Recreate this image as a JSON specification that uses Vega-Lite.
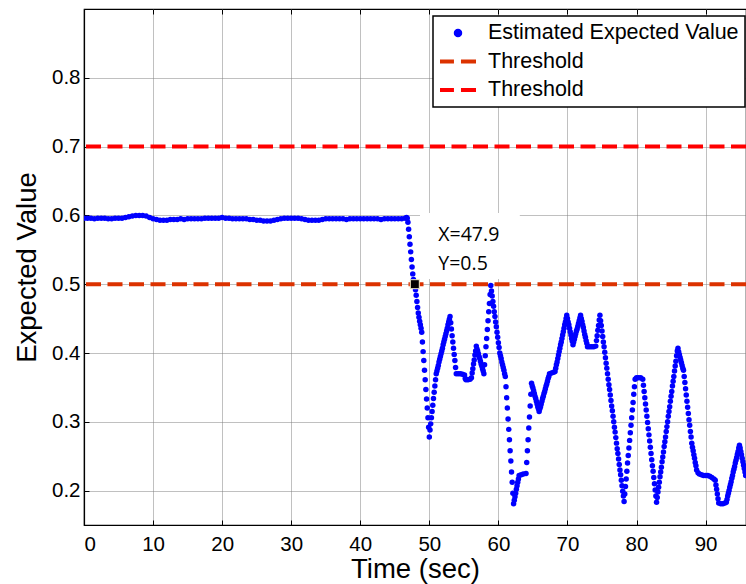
{
"$schema": "https://vega.github.io/schema/vega-lite/v6.json",
"width": 662, "height": 516,
"autosize": {"type": "none"},
"padding": {"left": 84, "top": 9, "right": 0, "bottom": 59},
"background": "white",
"config": {
  "font": "Liberation Sans",
  "view": {"stroke": "#000", "strokeWidth": 1.2},
  "axis": {"domainColor": "#000", "domainWidth": 1.2, "tickColor": "#000", "tickSize": -5, "tickWidth": 1,
    "labelColor": "#000", "labelFont": "Liberation Sans", "labelFontSize": 20.5,
    "titleFont": "Liberation Sans", "titleFontSize": 27.5, "titleFontWeight": "normal", "titleColor": "#000",
    "gridColor": "#808080", "gridDash": [1, 1], "gridWidth": 1, "gridOpacity": 1},
  "legend": {"orient": "none", "legendX": 349, "legendY": 7, "padding": 6, "fillColor": "white", "strokeColor": "black",
    "labelFont": "Liberation Sans", "labelFontSize": 21.5, "labelColor": "#000", "labelLimit": 600,
    "symbolSize": 324, "symbolOffset": 8, "labelOffset": 19, "rowPadding": 6.5}
},
"datasets": {
  "est": [
{"time":0,"value":0.596},{"time":0.5,"value":0.596},{"time":1,"value":0.596},{"time":1.5,"value":0.595},{"time":2,"value":0.596},{"time":2.5,"value":0.596},{"time":3,"value":0.596},{"time":3.5,"value":0.595},{"time":4,"value":0.595},{"time":4.5,"value":0.596},
{"time":5,"value":0.596},{"time":5.5,"value":0.596},{"time":6,"value":0.597},{"time":6.5,"value":0.598},{"time":7,"value":0.599},{"time":7.5,"value":0.6},{"time":8,"value":0.6},{"time":8.5,"value":0.6},{"time":9,"value":0.599},{"time":9.5,"value":0.597},
{"time":10,"value":0.595},{"time":10.5,"value":0.594},{"time":11,"value":0.593},{"time":11.5,"value":0.593},{"time":12,"value":0.593},{"time":12.5,"value":0.594},{"time":13,"value":0.594},{"time":13.5,"value":0.594},{"time":14,"value":0.595},{"time":14.5,"value":0.594},
{"time":15,"value":0.595},{"time":15.5,"value":0.595},{"time":16,"value":0.595},{"time":16.5,"value":0.595},{"time":17,"value":0.595},{"time":17.5,"value":0.596},{"time":18,"value":0.596},{"time":18.5,"value":0.596},{"time":19,"value":0.596},{"time":19.5,"value":0.596},
{"time":20,"value":0.597},{"time":20.5,"value":0.596},{"time":21,"value":0.596},{"time":21.5,"value":0.595},{"time":22,"value":0.595},{"time":22.5,"value":0.595},{"time":23,"value":0.595},{"time":23.5,"value":0.595},{"time":24,"value":0.594},{"time":24.5,"value":0.594},
{"time":25,"value":0.593},{"time":25.5,"value":0.593},{"time":26,"value":0.592},{"time":26.5,"value":0.592},{"time":27,"value":0.592},{"time":27.5,"value":0.593},{"time":28,"value":0.594},{"time":28.5,"value":0.595},{"time":29,"value":0.596},{"time":29.5,"value":0.596},
{"time":30,"value":0.596},{"time":30.5,"value":0.596},{"time":31,"value":0.596},{"time":31.5,"value":0.595},{"time":32,"value":0.594},{"time":32.5,"value":0.593},{"time":33,"value":0.593},{"time":33.5,"value":0.593},{"time":34,"value":0.593},{"time":34.5,"value":0.594},
{"time":35,"value":0.595},{"time":35.5,"value":0.595},{"time":36,"value":0.595},{"time":36.5,"value":0.595},{"time":37,"value":0.595},{"time":37.5,"value":0.595},{"time":38,"value":0.594},{"time":38.5,"value":0.595},{"time":39,"value":0.595},{"time":39.5,"value":0.595},
{"time":40,"value":0.595},{"time":40.5,"value":0.595},{"time":41,"value":0.595},{"time":41.5,"value":0.595},{"time":42,"value":0.595},{"time":42.5,"value":0.595},{"time":43,"value":0.594},{"time":43.5,"value":0.595},{"time":44,"value":0.595},{"time":44.5,"value":0.595},
{"time":45,"value":0.595},{"time":45.5,"value":0.595},{"time":46,"value":0.595},{"time":46.5,"value":0.596},{"time":46.7,"value":0.597},
{"time":46.8,"value":0.596},{"time":46.9,"value":0.59},{"time":47,"value":0.58},{"time":47.1,"value":0.569},{"time":47.2,"value":0.558},{"time":47.3,"value":0.547},{"time":47.4,"value":0.536},{"time":47.5,"value":0.525},{"time":47.6,"value":0.515},{"time":47.7,"value":0.507},{"time":47.8,"value":0.503},{"time":47.9,"value":0.5},
{"time":48,"value":0.492},{"time":48.1,"value":0.484},{"time":48.2,"value":0.475},{"time":48.3,"value":0.466},{"time":48.4,"value":0.458},{"time":48.5,"value":0.452},{"time":48.6,"value":0.446},{"time":48.7,"value":0.441},{"time":48.8,"value":0.436},{"time":48.9,"value":0.43},
{"time":49,"value":0.416},{"time":49.1,"value":0.402},{"time":49.2,"value":0.389},{"time":49.3,"value":0.375},{"time":49.4,"value":0.361},{"time":49.5,"value":0.347},{"time":49.6,"value":0.333},{"time":49.7,"value":0.32},{"time":49.8,"value":0.306},{"time":49.9,"value":0.292},{"time":50,"value":0.278},
{"time":50.1,"value":0.288},{"time":50.2,"value":0.297},{"time":50.3,"value":0.306},{"time":50.4,"value":0.315},{"time":50.5,"value":0.324},{"time":50.6,"value":0.334},{"time":50.7,"value":0.343},{"time":50.8,"value":0.352},{"time":50.9,"value":0.361},{"time":51,"value":0.37},
{"time":51.1,"value":0.374},{"time":51.2,"value":0.378},{"time":51.3,"value":0.382},{"time":51.4,"value":0.387},{"time":51.5,"value":0.391},{"time":51.6,"value":0.395},{"time":51.7,"value":0.399},{"time":51.8,"value":0.403},{"time":51.9,"value":0.407},{"time":52,"value":0.412},
{"time":52.1,"value":0.416},{"time":52.2,"value":0.42},{"time":52.3,"value":0.424},{"time":52.4,"value":0.428},{"time":52.5,"value":0.432},{"time":52.6,"value":0.436},{"time":52.7,"value":0.441},{"time":52.8,"value":0.445},{"time":52.9,"value":0.449},{"time":53,"value":0.453},
{"time":53.1,"value":0.444},{"time":53.2,"value":0.435},{"time":53.3,"value":0.425},{"time":53.4,"value":0.416},{"time":53.5,"value":0.407},{"time":53.6,"value":0.398},{"time":53.7,"value":0.389},{"time":53.8,"value":0.379},{"time":53.9,"value":0.37},
{"time":54.2,"value":0.37},{"time":54.5,"value":0.37},{"time":54.8,"value":0.369},{"time":55.1,"value":0.368},{"time":55.2,"value":0.363},{"time":55.3,"value":0.361},{"time":55.6,"value":0.361},{"time":55.9,"value":0.362},{"time":56.1,"value":0.364},
{"time":56.2,"value":0.371},{"time":56.3,"value":0.377},{"time":56.4,"value":0.384},{"time":56.5,"value":0.39},{"time":56.6,"value":0.397},{"time":56.7,"value":0.403},{"time":56.8,"value":0.41},
{"time":56.9,"value":0.406},{"time":57,"value":0.403},{"time":57.1,"value":0.399},{"time":57.2,"value":0.395},{"time":57.3,"value":0.392},{"time":57.4,"value":0.388},{"time":57.5,"value":0.384},{"time":57.6,"value":0.381},{"time":57.7,"value":0.377},{"time":57.8,"value":0.374},{"time":57.9,"value":0.37},
{"time":58,"value":0.383},{"time":58.1,"value":0.396},{"time":58.2,"value":0.409},{"time":58.3,"value":0.421},{"time":58.4,"value":0.434},{"time":58.5,"value":0.447},{"time":58.6,"value":0.46},{"time":58.7,"value":0.472},{"time":58.8,"value":0.485},{"time":58.9,"value":0.498},
{"time":59,"value":0.49},{"time":59.1,"value":0.483},{"time":59.2,"value":0.475},{"time":59.3,"value":0.468},{"time":59.4,"value":0.46},{"time":59.5,"value":0.453},{"time":59.6,"value":0.445},{"time":59.7,"value":0.438},{"time":59.8,"value":0.43},{"time":59.9,"value":0.423},{"time":60,"value":0.415},{"time":60.1,"value":0.408},{"time":60.2,"value":0.4},
{"time":60.3,"value":0.396},{"time":60.4,"value":0.392},{"time":60.5,"value":0.387},{"time":60.6,"value":0.383},{"time":60.7,"value":0.379},{"time":60.8,"value":0.375},{"time":60.9,"value":0.37},{"time":61,"value":0.366},
{"time":61.1,"value":0.351},{"time":61.2,"value":0.335},{"time":61.3,"value":0.32},{"time":61.4,"value":0.304},{"time":61.5,"value":0.289},{"time":61.6,"value":0.274},{"time":61.7,"value":0.258},{"time":61.8,"value":0.243},{"time":61.9,"value":0.227},{"time":62,"value":0.212},{"time":62.1,"value":0.196},{"time":62.2,"value":0.181},
{"time":62.3,"value":0.186},{"time":62.4,"value":0.191},{"time":62.5,"value":0.196},{"time":62.6,"value":0.202},{"time":62.7,"value":0.207},{"time":62.8,"value":0.212},{"time":62.9,"value":0.217},{"time":63,"value":0.222},
{"time":63.3,"value":0.223},{"time":63.6,"value":0.224},{"time":64,"value":0.225},
{"time":64.1,"value":0.241},{"time":64.2,"value":0.258},{"time":64.3,"value":0.274},{"time":64.4,"value":0.291},{"time":64.5,"value":0.307},{"time":64.6,"value":0.323},{"time":64.7,"value":0.34},{"time":64.8,"value":0.356},
{"time":64.9,"value":0.352},{"time":65,"value":0.349},{"time":65.1,"value":0.345},{"time":65.2,"value":0.341},{"time":65.3,"value":0.337},{"time":65.4,"value":0.334},{"time":65.5,"value":0.33},{"time":65.6,"value":0.326},{"time":65.7,"value":0.322},{"time":65.8,"value":0.319},{"time":65.9,"value":0.315},
{"time":66,"value":0.319},{"time":66.1,"value":0.322},{"time":66.2,"value":0.326},{"time":66.3,"value":0.33},{"time":66.4,"value":0.334},{"time":66.5,"value":0.337},{"time":66.6,"value":0.341},{"time":66.7,"value":0.344},{"time":66.8,"value":0.348},{"time":66.9,"value":0.352},{"time":67,"value":0.355},{"time":67.1,"value":0.359},{"time":67.2,"value":0.363},{"time":67.3,"value":0.366},{"time":67.4,"value":0.37},
{"time":67.7,"value":0.371},{"time":68,"value":0.372},{"time":68.2,"value":0.373},
{"time":68.3,"value":0.378},{"time":68.4,"value":0.383},{"time":68.5,"value":0.387},{"time":68.6,"value":0.392},{"time":68.7,"value":0.397},{"time":68.8,"value":0.402},{"time":68.9,"value":0.407},{"time":69,"value":0.412},{"time":69.1,"value":0.416},{"time":69.2,"value":0.421},{"time":69.3,"value":0.426},{"time":69.4,"value":0.431},{"time":69.5,"value":0.436},{"time":69.6,"value":0.441},{"time":69.7,"value":0.445},{"time":69.8,"value":0.45},{"time":69.9,"value":0.455},
{"time":70,"value":0.45},{"time":70.1,"value":0.445},{"time":70.2,"value":0.441},{"time":70.3,"value":0.436},{"time":70.4,"value":0.431},{"time":70.5,"value":0.426},{"time":70.6,"value":0.421},{"time":70.7,"value":0.417},{"time":70.8,"value":0.412},
{"time":70.9,"value":0.416},{"time":71,"value":0.42},{"time":71.1,"value":0.424},{"time":71.2,"value":0.428},{"time":71.3,"value":0.432},{"time":71.4,"value":0.435},{"time":71.5,"value":0.439},{"time":71.6,"value":0.443},{"time":71.7,"value":0.447},{"time":71.8,"value":0.451},{"time":71.9,"value":0.455},
{"time":72,"value":0.45},{"time":72.1,"value":0.446},{"time":72.2,"value":0.441},{"time":72.3,"value":0.437},{"time":72.4,"value":0.432},{"time":72.5,"value":0.427},{"time":72.6,"value":0.423},{"time":72.7,"value":0.418},{"time":72.8,"value":0.414},{"time":72.9,"value":0.409},
{"time":73.2,"value":0.409},{"time":73.5,"value":0.409},{"time":73.8,"value":0.409},{"time":74.1,"value":0.41},
{"time":74.2,"value":0.418},{"time":74.3,"value":0.425},{"time":74.4,"value":0.433},{"time":74.5,"value":0.44},{"time":74.6,"value":0.448},{"time":74.7,"value":0.455},
{"time":74.8,"value":0.447},{"time":74.9,"value":0.44},{"time":75,"value":0.432},{"time":75.1,"value":0.424},{"time":75.2,"value":0.416},{"time":75.3,"value":0.409},{"time":75.4,"value":0.401},{"time":75.5,"value":0.393},{"time":75.6,"value":0.385},{"time":75.7,"value":0.378},
{"time":75.8,"value":0.37},{"time":75.9,"value":0.362},{"time":76,"value":0.354},{"time":76.1,"value":0.347},{"time":76.2,"value":0.339},{"time":76.3,"value":0.331},{"time":76.4,"value":0.323},{"time":76.5,"value":0.316},{"time":76.6,"value":0.308},{"time":76.7,"value":0.3},
{"time":76.8,"value":0.292},{"time":76.9,"value":0.285},{"time":77,"value":0.277},{"time":77.1,"value":0.269},{"time":77.2,"value":0.261},{"time":77.3,"value":0.254},{"time":77.4,"value":0.246},{"time":77.5,"value":0.238},{"time":77.6,"value":0.23},{"time":77.7,"value":0.223},
{"time":77.8,"value":0.215},{"time":77.9,"value":0.207},{"time":78,"value":0.199},{"time":78.1,"value":0.192},{"time":78.2,"value":0.184},
{"time":78.3,"value":0.195},{"time":78.4,"value":0.206},{"time":78.5,"value":0.217},{"time":78.6,"value":0.228},{"time":78.7,"value":0.24},{"time":78.8,"value":0.251},{"time":78.9,"value":0.262},{"time":79,"value":0.273},{"time":79.1,"value":0.284},{"time":79.2,"value":0.295},
{"time":79.3,"value":0.306},{"time":79.4,"value":0.317},{"time":79.5,"value":0.328},{"time":79.6,"value":0.34},{"time":79.7,"value":0.351},{"time":79.8,"value":0.362},
{"time":80,"value":0.364},{"time":80.3,"value":0.364},{"time":80.6,"value":0.364},{"time":80.9,"value":0.362},
{"time":81,"value":0.353},{"time":81.1,"value":0.344},{"time":81.2,"value":0.335},{"time":81.3,"value":0.326},{"time":81.4,"value":0.317},{"time":81.5,"value":0.308},{"time":81.6,"value":0.299},{"time":81.7,"value":0.29},{"time":81.8,"value":0.281},{"time":81.9,"value":0.272},
{"time":82,"value":0.263},{"time":82.1,"value":0.254},{"time":82.2,"value":0.245},{"time":82.3,"value":0.236},{"time":82.4,"value":0.228},{"time":82.5,"value":0.219},{"time":82.6,"value":0.21},{"time":82.7,"value":0.201},{"time":82.8,"value":0.192},{"time":82.9,"value":0.183},
{"time":83,"value":0.19},{"time":83.1,"value":0.198},{"time":83.2,"value":0.205},{"time":83.3,"value":0.212},{"time":83.4,"value":0.22},{"time":83.5,"value":0.227},{"time":83.6,"value":0.234},{"time":83.7,"value":0.242},{"time":83.8,"value":0.249},{"time":83.9,"value":0.256},
{"time":84,"value":0.264},{"time":84.1,"value":0.271},{"time":84.2,"value":0.278},{"time":84.3,"value":0.286},{"time":84.4,"value":0.293},{"time":84.5,"value":0.3},{"time":84.6,"value":0.308},{"time":84.7,"value":0.315},{"time":84.8,"value":0.322},{"time":84.9,"value":0.33},
{"time":85,"value":0.337},{"time":85.1,"value":0.344},{"time":85.2,"value":0.352},{"time":85.3,"value":0.359},{"time":85.4,"value":0.366},{"time":85.5,"value":0.374},{"time":85.6,"value":0.381},{"time":85.7,"value":0.388},{"time":85.8,"value":0.396},{"time":85.9,"value":0.403},{"time":86,"value":0.407},
{"time":86.1,"value":0.402},{"time":86.2,"value":0.398},{"time":86.3,"value":0.394},{"time":86.4,"value":0.39},{"time":86.5,"value":0.386},{"time":86.6,"value":0.382},{"time":86.7,"value":0.378},{"time":86.8,"value":0.375},{"time":86.9,"value":0.366},{"time":87,"value":0.357},
{"time":87.1,"value":0.348},{"time":87.2,"value":0.339},{"time":87.3,"value":0.33},{"time":87.4,"value":0.321},{"time":87.5,"value":0.312},{"time":87.6,"value":0.303},{"time":87.7,"value":0.295},{"time":87.8,"value":0.286},{"time":87.9,"value":0.278},{"time":88,"value":0.269},
{"time":88.1,"value":0.263},{"time":88.2,"value":0.258},{"time":88.3,"value":0.252},{"time":88.4,"value":0.247},{"time":88.5,"value":0.241},{"time":88.6,"value":0.236},{"time":88.7,"value":0.23},{"time":88.9,"value":0.226},{"time":89.1,"value":0.224},
{"time":89.4,"value":0.223},{"time":89.7,"value":0.222},{"time":90,"value":0.222},{"time":90.3,"value":0.222},{"time":90.6,"value":0.221},{"time":90.9,"value":0.219},{"time":91.2,"value":0.217},{"time":91.4,"value":0.215},
{"time":91.5,"value":0.208},{"time":91.6,"value":0.202},{"time":91.7,"value":0.195},{"time":91.8,"value":0.188},{"time":91.9,"value":0.182},
{"time":92.2,"value":0.181},{"time":92.5,"value":0.181},{"time":92.8,"value":0.182},{"time":93,"value":0.183},
{"time":93.1,"value":0.187},{"time":93.2,"value":0.192},{"time":93.3,"value":0.196},{"time":93.4,"value":0.2},{"time":93.5,"value":0.205},{"time":93.6,"value":0.209},{"time":93.7,"value":0.213},{"time":93.8,"value":0.218},{"time":93.9,"value":0.222},{"time":94,"value":0.227},
{"time":94.1,"value":0.231},{"time":94.2,"value":0.235},{"time":94.3,"value":0.24},{"time":94.4,"value":0.244},{"time":94.5,"value":0.248},{"time":94.6,"value":0.253},{"time":94.7,"value":0.257},{"time":94.8,"value":0.262},{"time":94.9,"value":0.266},
{"time":95,"value":0.262},{"time":95.1,"value":0.257},{"time":95.2,"value":0.252},{"time":95.3,"value":0.247},{"time":95.4,"value":0.242},{"time":95.5,"value":0.237},{"time":95.6,"value":0.232},{"time":95.7,"value":0.227},{"time":95.8,"value":0.222}
  ],
  "thr": [{"name": "Threshold A", "value": 0.5}, {"name": "Threshold B", "value": 0.7}],
  "tipbox": [{"t1": 48.65, "t2": 63.1, "v1": 0.5076, "v2": 0.6035}],
  "tiptext": [{"time": 51.3, "value": 0.563, "label": "X=47.9"}, {"time": 51.3, "value": 0.521, "label": "Y=0.5"}],
  "tip": [{"time": 47.9, "value": 0.5}]
},
"resolve": {"axis": {"x": "independent"}},
"layer": [
  {
    "data": {"name": "est"},
    "mark": {"type": "point", "filled": true, "size": 30, "opacity": 1, "clip": true},
    "encoding": {
      "x": {"field": "time", "type": "quantitative",
        "scale": {"domain": [0, 95.85], "nice": false, "zero": false},
        "axis": {"orient": "bottom", "values": [0,10,20,30,40,50,60,70,80,90], "grid": true, "title": "Time (sec)", "labelPadding": 14, "titlePadding": 1}},
      "y": {"field": "value", "type": "quantitative",
        "scale": {"domain": [0.15, 0.9], "nice": false, "zero": false},
        "axis": {"values": [0.2,0.3,0.4,0.5,0.6,0.7,0.8], "format": ".1f", "grid": true, "title": "Expected Value", "labelPadding": 9, "titlePadding": 10}},
      "color": {"datum": "Estimated Expected Value", "type": "nominal",
        "scale": {"domain": ["Estimated Expected Value", "Threshold A", "Threshold B"], "range": ["#0000FF", "#DC3200", "#FF0000"]},
        "legend": {"title": null,
          "labelExpr": "datum.label == 'Estimated Expected Value' ? datum.label : 'Threshold'",
          "encode": {
            "legend": {"update": {"strokeWidth": {"value": 1.5}}},
            "symbols": {"update": {
              "shape": {"signal": "datum.value == 'Estimated Expected Value' ? 'circle' : 'M-2,0L-0.45,0M0.33,0L2,0'"},
              "size": {"signal": "datum.value == 'Estimated Expected Value' ? 20 : 324"},
              "fill": {"signal": "datum.value == 'Estimated Expected Value' ? '#0000FF' : 'transparent'"},
              "stroke": {"signal": "datum.value == 'Threshold A' ? '#DC3200' : (datum.value == 'Threshold B' ? '#FF0000' : 'transparent')"},
              "strokeWidth": {"value": 4},
              "opacity": {"value": 1}
            }}
          }}
      }
    }
  },
  {
    "data": {"name": "tipbox"},
    "mark": {"type": "rect", "fill": "white", "stroke": null},
    "encoding": {
      "x": {"field": "t1", "type": "quantitative", "axis": {"orient": "top", "values": [0,10,20,30,40,50,60,70,80,90], "labels": false, "domain": false, "grid": false, "title": null, "ticks": true}},
      "x2": {"field": "t2"},
      "y": {"field": "v1", "type": "quantitative"},
      "y2": {"field": "v2"}
    }
  },
  {
    "data": {"name": "tiptext"},
    "mark": {"type": "text", "font": "Open Sans", "fontSize": 19.5, "align": "left", "baseline": "alphabetic", "color": "#000"},
    "encoding": {
      "x": {"field": "time", "type": "quantitative", "axis": null},
      "y": {"field": "value", "type": "quantitative"},
      "text": {"field": "label"}
    }
  },
  {
    "data": {"name": "thr"},
    "mark": {"type": "rule", "strokeWidth": 4, "strokeDash": [15, 6.5]},
    "encoding": {
      "y": {"field": "value", "type": "quantitative"},
      "color": {"field": "name", "type": "nominal",
        "legend": {"title": null,
          "labelExpr": "datum.label == 'Estimated Expected Value' ? datum.label : 'Threshold'",
          "encode": {
            "legend": {"update": {"strokeWidth": {"value": 1.5}}},
            "symbols": {"update": {
              "shape": {"signal": "datum.value == 'Estimated Expected Value' ? 'circle' : 'M-2,0L-0.45,0M0.33,0L2,0'"},
              "size": {"signal": "datum.value == 'Estimated Expected Value' ? 20 : 324"},
              "fill": {"signal": "datum.value == 'Estimated Expected Value' ? '#0000FF' : 'transparent'"},
              "stroke": {"signal": "datum.value == 'Threshold A' ? '#DC3200' : (datum.value == 'Threshold B' ? '#FF0000' : 'transparent')"},
              "strokeWidth": {"value": 4},
              "opacity": {"value": 1}
            }}
          }}}
    }
  },
  {
    "data": {"name": "tip"},
    "mark": {"type": "point", "shape": "square", "filled": true, "size": 81, "color": "#000", "stroke": "#f3efc8", "strokeWidth": 1, "opacity": 1},
    "encoding": {
      "x": {"field": "time", "type": "quantitative", "axis": null},
      "y": {"field": "value", "type": "quantitative"}
    }
  }
]
}
